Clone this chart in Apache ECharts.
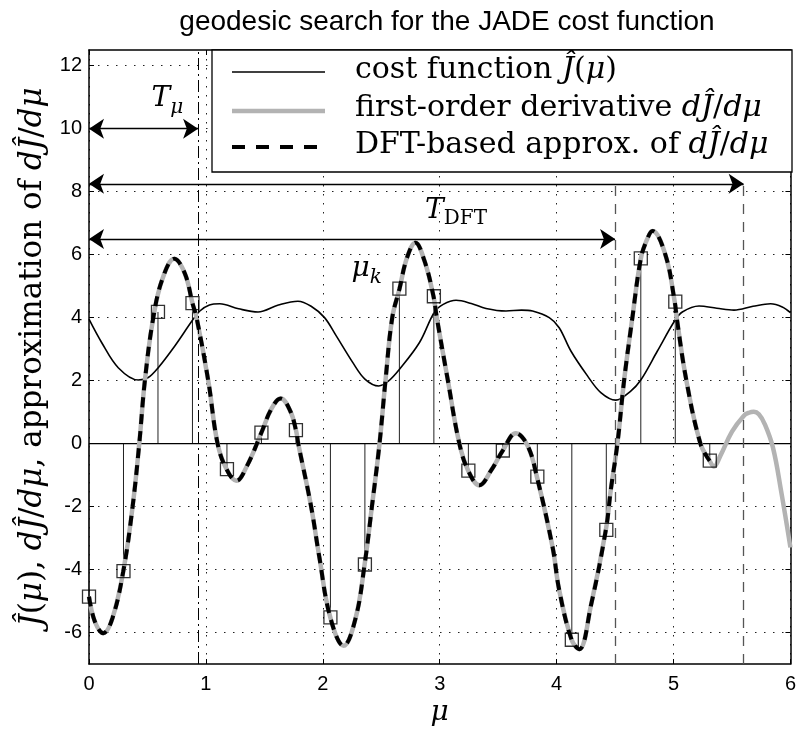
<!DOCTYPE html>
<html>
<head>
<meta charset="UTF-8">
<title>geodesic search for the JADE cost function</title>
<script src="https://cdn.jsdelivr.net/npm/echarts@6/dist/echarts.min.js"></script>
<style>
html, body { margin: 0; padding: 0; background: #fff; }
#main { width: 799px; height: 733px; }
</style>
</head>
<body>
<div id="main"></div>
<script type="text/javascript">
// cost function J(mu)
var costMu  = [0, 0.108, 0.25, 0.421, 0.507, 0.592, 0.734, 0.882, 0.948, 1.03, 1.119, 1.28, 1.446, 1.62, 1.787, 1.9, 2.015, 2.115, 2.257, 2.36, 2.479, 2.56, 2.656, 2.827, 2.955, 3.03, 3.14, 3.27, 3.396, 3.567, 3.7, 3.794, 3.937, 4.022, 4.122, 4.264, 4.378, 4.506, 4.634, 4.72, 4.862, 5.01, 5.075, 5.218, 5.37, 5.517, 5.68, 5.83, 5.93, 6];
var costVal = [3.95, 3.21, 2.41, 2.02, 2.1, 2.41, 3.1, 3.9, 4.21, 4.4, 4.44, 4.28, 4.18, 4.4, 4.52, 4.36, 4.0, 3.42, 2.57, 2.05, 1.83, 1.98, 2.36, 3.21, 4.18, 4.42, 4.55, 4.45, 4.29, 4.21, 4.24, 4.21, 4.0, 3.68, 2.94, 2.15, 1.62, 1.38, 1.67, 2.02, 2.94, 3.9, 4.18, 4.37, 4.3, 4.24, 4.36, 4.44, 4.34, 4.16];

// first-order derivative dJ/dmu
var derivMu  = [0, 0.05, 0.122, 0.2, 0.293, 0.373, 0.43, 0.478, 0.55, 0.63, 0.73, 0.82, 0.885, 0.92, 1.02, 1.1, 1.176, 1.26, 1.35, 1.475, 1.56, 1.64, 1.72, 1.77, 1.79, 1.9, 1.97, 2.064, 2.178, 2.28, 2.357, 2.42, 2.485, 2.536, 2.594, 2.656, 2.72, 2.792, 2.87, 2.946, 2.975, 3.07, 3.168, 3.245, 3.339, 3.44, 3.538, 3.652, 3.752, 3.831, 3.966, 4.022, 4.128, 4.193, 4.293, 4.421, 4.464, 4.52, 4.577, 4.648, 4.72, 4.77, 4.82, 4.93, 5.01, 5.027, 5.11, 5.23, 5.309, 5.346, 5.4, 5.5, 5.6, 5.645, 5.687, 5.73, 5.78, 5.85, 5.92, 6];
var derivVal = [-4.86, -5.65, -6.02, -5.55, -4.06, -2.0, 0, 2.0, 4.0, 5.25, 5.87, 5.4, 4.46, 4.0, 2.0, 0, -0.81, -1.18, -0.72, 0.35, 1.1, 1.43, 1.05, 0.43, 0, -2.0, -3.6, -5.52, -6.42, -5.55, -3.85, -2.0, 0, 2.0, 4.0, 4.92, 5.9, 6.38, 5.8, 4.69, 4.0, 2.0, 0, -0.87, -1.32, -0.85, -0.23, 0.33, -0.07, -1.05, -3.3, -4.65, -6.23, -6.53, -5.15, -2.74, -1.45, 0, 2.0, 4.0, 5.87, 6.45, 6.75, 6.0, 4.51, 4.0, 2.0, 0, -0.55, -0.73, -0.39, 0.38, 0.88, 0.98, 1.01, 0.93, 0.62, -0.12, -1.5, -3.3];

// DFT-based approximation: lies on the derivative up to the last sample
var dftEnd = 5.31;

// sampling points mu_k and sampled values
var sampleMu  = [0, 0.295, 0.59, 0.885, 1.18, 1.475, 1.77, 2.065, 2.36, 2.655, 2.95, 3.245, 3.54, 3.835, 4.13, 4.425, 4.72, 5.015, 5.31];
var sampleVal = [-4.86, -4.05, 4.18, 4.46, -0.81, 0.35, 0.43, -5.52, -3.84, 4.92, 4.68, -0.86, -0.22, -1.05, -6.23, -2.74, 5.88, 4.51, -0.54];

// axes
var xTicks = [0, 1, 2, 3, 4, 5, 6];
var yTicks = [-6, -4, -2, 0, 2, 4, 6, 8, 10, 12];

// annotations (data units)
var tMu = 0.933;           // T_mu
var dftMarks = [4.5, 5.6]; // dashed markers
var arrowRows = [[10, 0, 0.933], [8.25, 0, 5.6], [6.5, 0, 4.5]]; // y, from, to

function pairs(xs, ys) {
  var out = [];
  for (var i = 0; i < xs.length; i++) out.push([xs[i], ys[i]]);
  return out;
}

var costData = pairs(costMu, costVal);
var derivData = pairs(derivMu, derivVal);
var dftData = derivData.filter(function (p) { return p[0] <= dftEnd + 1e-6; });
var sampleData = pairs(sampleMu, sampleVal);

var serif = 'DejaVu Serif';
var sans = 'Liberation Sans';

function mathRich(size) {
  return {
    n: { fontFamily: serif, fontSize: size, color: '#000' },
    i: { fontFamily: serif, fontSize: size, fontStyle: 'italic', color: '#000' },
    s: { fontFamily: serif, fontSize: Math.round(size * 0.7), fontStyle: 'italic', color: '#000', padding: [Math.round(size * 0.6), 0, 0, 0] },
    sn: { fontFamily: serif, fontSize: Math.round(size * 0.7), color: '#000', padding: [Math.round(size * 0.6), 0, 0, 0] }
  };
}
var richLegend = mathRich(30);
var richAxis = mathRich(31);
var richNote = mathRich(28);

// reference lines and arrows as markLine items
var markLines = [];
markLines.push([
  { coord: [tMu, -7], lineStyle: { color: '#000', width: 1, type: [12, 4, 2, 4] } },
  { coord: [tMu, 12.5] }
]);
dftMarks.forEach(function (m) {
  markLines.push([
    { coord: [m, -7], lineStyle: { color: '#555', width: 1.3, type: [10, 8] } },
    { coord: [m, 8.25] }
  ]);
});
arrowRows.forEach(function (a) {
  markLines.push([
    { coord: [a[1], a[0]], symbol: 'arrow', symbolSize: 15, lineStyle: { color: '#000', width: 1.3, type: 'solid' } },
    { coord: [a[2], a[0]], symbol: 'arrow', symbolSize: 15 }
  ]);
});

function textMark(x, y, fmt) {
  return {
    coord: [x, y], symbol: 'rect', symbolSize: 1,
    itemStyle: { color: 'rgba(0,0,0,0)' },
    label: { show: true, position: 'inside', formatter: fmt, rich: richNote }
  };
}

var myChart = echarts.init(document.getElementById('main'), null, { renderer: 'canvas' });

var option = {
  animation: false,
  backgroundColor: '#fff',
  title: {
    text: 'geodesic search for the JADE cost function',
    left: 442, top: 3, textAlign: 'center',
    textStyle: { fontFamily: sans, fontSize: 28, fontWeight: 'normal', color: '#000' }
  },
  grid: { left: 89, right: 7, top: 50, bottom: 69, containLabel: false },
  xAxis: [{
    type: 'value', min: 0, max: 6, interval: 1,
    name: '{i|μ}', nameLocation: 'middle', nameGap: 30,
    nameTextStyle: { rich: mathRich(28) },
    axisLine: { show: true, onZero: false, lineStyle: { color: '#000', width: 1.5 } },
    axisTick: { show: true, inside: true, length: 5, lineStyle: { color: '#000', width: 1 } },
    axisLabel: { fontFamily: sans, fontSize: 20, color: '#000', margin: 10 },
    splitLine: { show: true, lineStyle: { color: '#222', width: 1, type: [1.5, 7.5] } }
  }, {
    type: 'value', min: 0, max: 6, interval: 1, position: 'top',
    axisLine: { show: true, onZero: false, lineStyle: { color: '#000', width: 1.5 } },
    axisTick: { show: true, inside: true, length: 5, lineStyle: { color: '#000', width: 1 } },
    axisLabel: { show: false }, splitLine: { show: false }
  }],
  yAxis: [{
    type: 'value', min: -7, max: 12.5,
    name: '{i|Ĵ}{n|(}{i|μ}{n|), }{i|d}{i|Ĵ}{n|/}{i|dμ}{n|, approximation of }{i|d}{i|Ĵ}{n|/}{i|dμ}',
    nameLocation: 'middle', nameGap: 40, nameRotate: 90,
    nameTextStyle: { rich: richAxis },
    axisLine: { show: true, onZero: false, lineStyle: { color: '#000', width: 1.5 } },
    axisTick: { show: true, inside: true, length: 5, customValues: yTicks, lineStyle: { color: '#000', width: 1 } },
    axisLabel: { fontFamily: sans, fontSize: 20, color: '#000', margin: 7, customValues: yTicks },
    splitLine: { show: true, lineStyle: { color: '#222', width: 1, type: [1.5, 7.5] } }
  }, {
    type: 'value', min: -7, max: 12.5, position: 'right',
    axisLine: { show: true, onZero: false, lineStyle: { color: '#000', width: 1.5 } },
    axisTick: { show: true, inside: true, length: 5, customValues: yTicks, lineStyle: { color: '#000', width: 1 } },
    axisLabel: { show: false }, splitLine: { show: false }
  }],
  series: [
    {
      name: 'stems', type: 'custom', z: 2, silent: true,
      renderItem: function (params, api) {
        var p0 = api.coord([api.value(0), 0]);
        var p1 = api.coord([api.value(0), api.value(1)]);
        return {
          type: 'line',
          shape: { x1: p0[0], y1: p0[1], x2: p1[0], y2: p1[1] },
          style: { stroke: '#222', lineWidth: 1 }
        };
      },
      data: sampleData
    },
    {
      name: 'zero', type: 'line', z: 2, silent: true, symbol: 'none',
      data: [[0, 0], [6, 0]],
      lineStyle: { color: '#000', width: 1.2 }
    },
    {
      name: 'cost function', type: 'line', z: 3, smooth: 0.35, showSymbol: false,
      data: costData,
      lineStyle: { color: '#000', width: 1.6 },
      markLine: { silent: true, symbol: 'none', label: { show: false }, data: markLines },
      markPoint: {
        silent: true,
        data: [
          textMark(0.67, 10.95, '{i|T}{s|μ}'),
          textMark(3.14, 7.4, '{i|T}{sn|DFT}'),
          textMark(2.375, 5.55, '{i|μ}{s|k}')
        ]
      }
    },
    {
      name: 'first-order derivative', type: 'line', z: 4, smooth: 0.4, showSymbol: false,
      data: derivData,
      lineStyle: { color: '#b3b3b3', width: 4.5 }
    },
    {
      name: 'DFT-based approx.', type: 'line', z: 5, smooth: 0.4, showSymbol: false,
      data: dftData,
      lineStyle: { color: '#000', width: 4, type: [10, 7] }
    },
    {
      name: 'samples', type: 'scatter', z: 6, silent: true,
      symbol: 'rect', symbolSize: 13,
      data: sampleData,
      itemStyle: { color: 'rgba(0,0,0,0)', borderColor: '#000', borderWidth: 1.3 }
    }
  ],
  graphic: [
    { type: 'rect', z: 100, shape: { x: 212, y: 50, width: 580, height: 122 },
      style: { fill: '#fff', stroke: '#000', lineWidth: 1.3 } },
    { type: 'line', z: 101, shape: { x1: 232, y1: 72, x2: 325, y2: 72 },
      style: { stroke: '#000', lineWidth: 1.6 } },
    { type: 'line', z: 101, shape: { x1: 232, y1: 111, x2: 325, y2: 111 },
      style: { stroke: '#b3b3b3', lineWidth: 4.5 } },
    { type: 'line', z: 101, shape: { x1: 232, y1: 147, x2: 325, y2: 147 },
      style: { stroke: '#000', lineWidth: 4, lineDash: [13, 11] } },
    { type: 'text', z: 101, x: 355, y: 70,
      style: { text: '{n|cost function }{i|Ĵ}{n|(}{i|μ}{n|)}', rich: richLegend, verticalAlign: 'middle' } },
    { type: 'text', z: 101, x: 355, y: 108,
      style: { text: '{n|first-order derivative }{i|d}{i|Ĵ}{n|/}{i|dμ}', rich: richLegend, verticalAlign: 'middle' } },
    { type: 'text', z: 101, x: 355, y: 145,
      style: { text: '{n|DFT-based approx. of }{i|d}{i|Ĵ}{n|/}{i|dμ}', rich: richLegend, verticalAlign: 'middle' } }
  ]
};

myChart.setOption(option);
</script>
</body>
</html>
